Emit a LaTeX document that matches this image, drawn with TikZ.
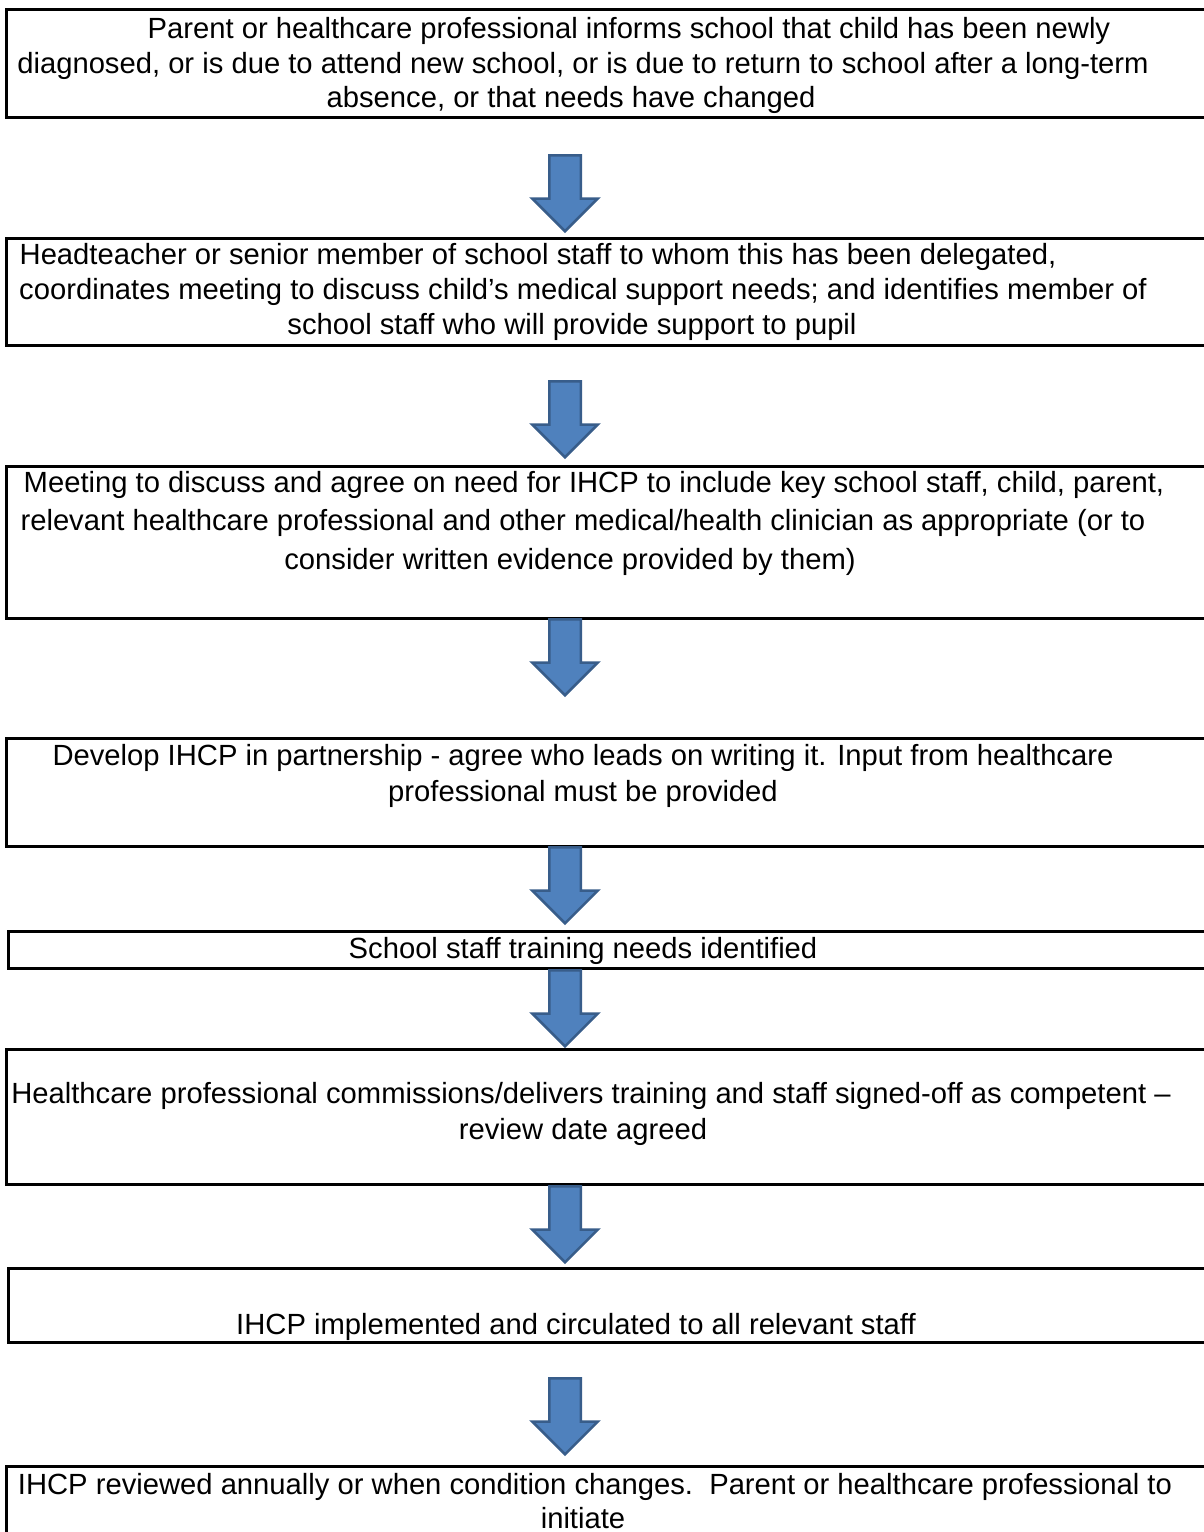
\documentclass[tikz,border=0pt]{standalone}
\usepackage{fontspec}
\setmainfont{Liberation Sans}
\usepackage{xcolor}
\usepackage{tikz}
\usetikzlibrary{shapes.arrows,positioning}

\definecolor{arrowblue}{HTML}{4F81BD}
\definecolor{arrowedge}{HTML}{385D8A}

\begin{document}
\begin{tikzpicture}[
x=0.5pt,y=-0.5pt,
box/.style={draw,line width=1.5pt,anchor=north west,minimum width=620pt,inner sep=0pt},
txt/.style={align=center,inner sep=0pt,font=\fontsize{14.6}{17.3}\selectfont},
flow/.style={single arrow,draw=arrowedge,fill=arrowblue,line width=1.25pt,rotate=-90,anchor=tail,
  minimum height=38pt,minimum width=31.5pt,single arrow head extend=8.5pt,single arrow head indent=0pt,
  inner xsep=0pt,inner ysep=7.25pt}
]
\fill[white] (0,0) rectangle (1204,1532);
\useasboundingbox (0,0) rectangle (1204,1532);

% boxes
\node[box,minimum height=54pt] (b1) at (5,8) {};
\node[box,minimum height=53.5pt] (b2) at (5,237) {};
\node[box,minimum height=76pt] (b3) at (5,465) {};
\node[box,minimum height=54pt] (b4) at (5,737) {};
\node[box,minimum height=18.5pt] (b5) at (7,930) {};
\node[box,minimum height=67.5pt] (b6) at (5,1048) {};
\node[box,minimum height=37pt] (b7) at (7,1267) {};
\node[box,minimum height=60pt] (b8) at (5,1465) {};

% texts
\node[txt] (t1) at (583,65.5) {\hspace*{46pt}Parent or healthcare professional informs school that child has been newly\\
diagnosed, or is due to attend new school, or is due to return to school after a long-term\\
absence, or that needs have changed\hspace*{12pt}\mbox{}};
\node[txt] (t2) at (583,292) {Headteacher or senior member of school staff to whom this has been delegated,\hspace*{45pt}\mbox{}\\
coordinates meeting to discuss child’s medical support needs; and identifies member of\\
school staff who will provide support to pupil\hspace*{11pt}\mbox{}};
\node[txt,font=\fontsize{14.6}{19.25}\selectfont] (t3) at (583,523) {\hspace*{11pt}Meeting to discuss and agree on need for IHCP to include key school staff, child, parent,\\
relevant healthcare professional and other medical/health clinician as appropriate (or to\\
consider written evidence provided by them)\hspace*{13pt}\mbox{}};
\node[txt,font=\fontsize{14.6}{18}\selectfont] (t4) at (583,776) {Develop IHCP in partnership - agree who leads on writing it. Input from healthcare\\
professional must be provided};
\node[txt] (t5) at (583,951) {School staff training needs identified};
\node[txt,font=\fontsize{14.6}{18}\selectfont] (t6) at (583,1114) {\hspace*{8pt}Healthcare professional commissions/delivers training and staff signed-off as competent –\\
review date agreed};
\node[txt] (t7) at (576,1327) {IHCP implemented and circulated to all relevant staff};
\node[txt] (t8) at (583,1501) {\hspace*{12pt}IHCP reviewed annually or when condition changes.\ \ Parent or healthcare professional to\\
initiate};

% arrows
\node[flow] (a1) at (565,154) {};
\node[flow] (a2) at (565,380) {};
\node[flow] (a3) at (565,618) {};
\node[flow] (a4) at (565,846) {};
\node[flow] (a5) at (565,969) {};
\node[flow] (a6) at (565,1185) {};
\node[flow] (a7) at (565,1377) {};
\end{tikzpicture}
\end{document}
